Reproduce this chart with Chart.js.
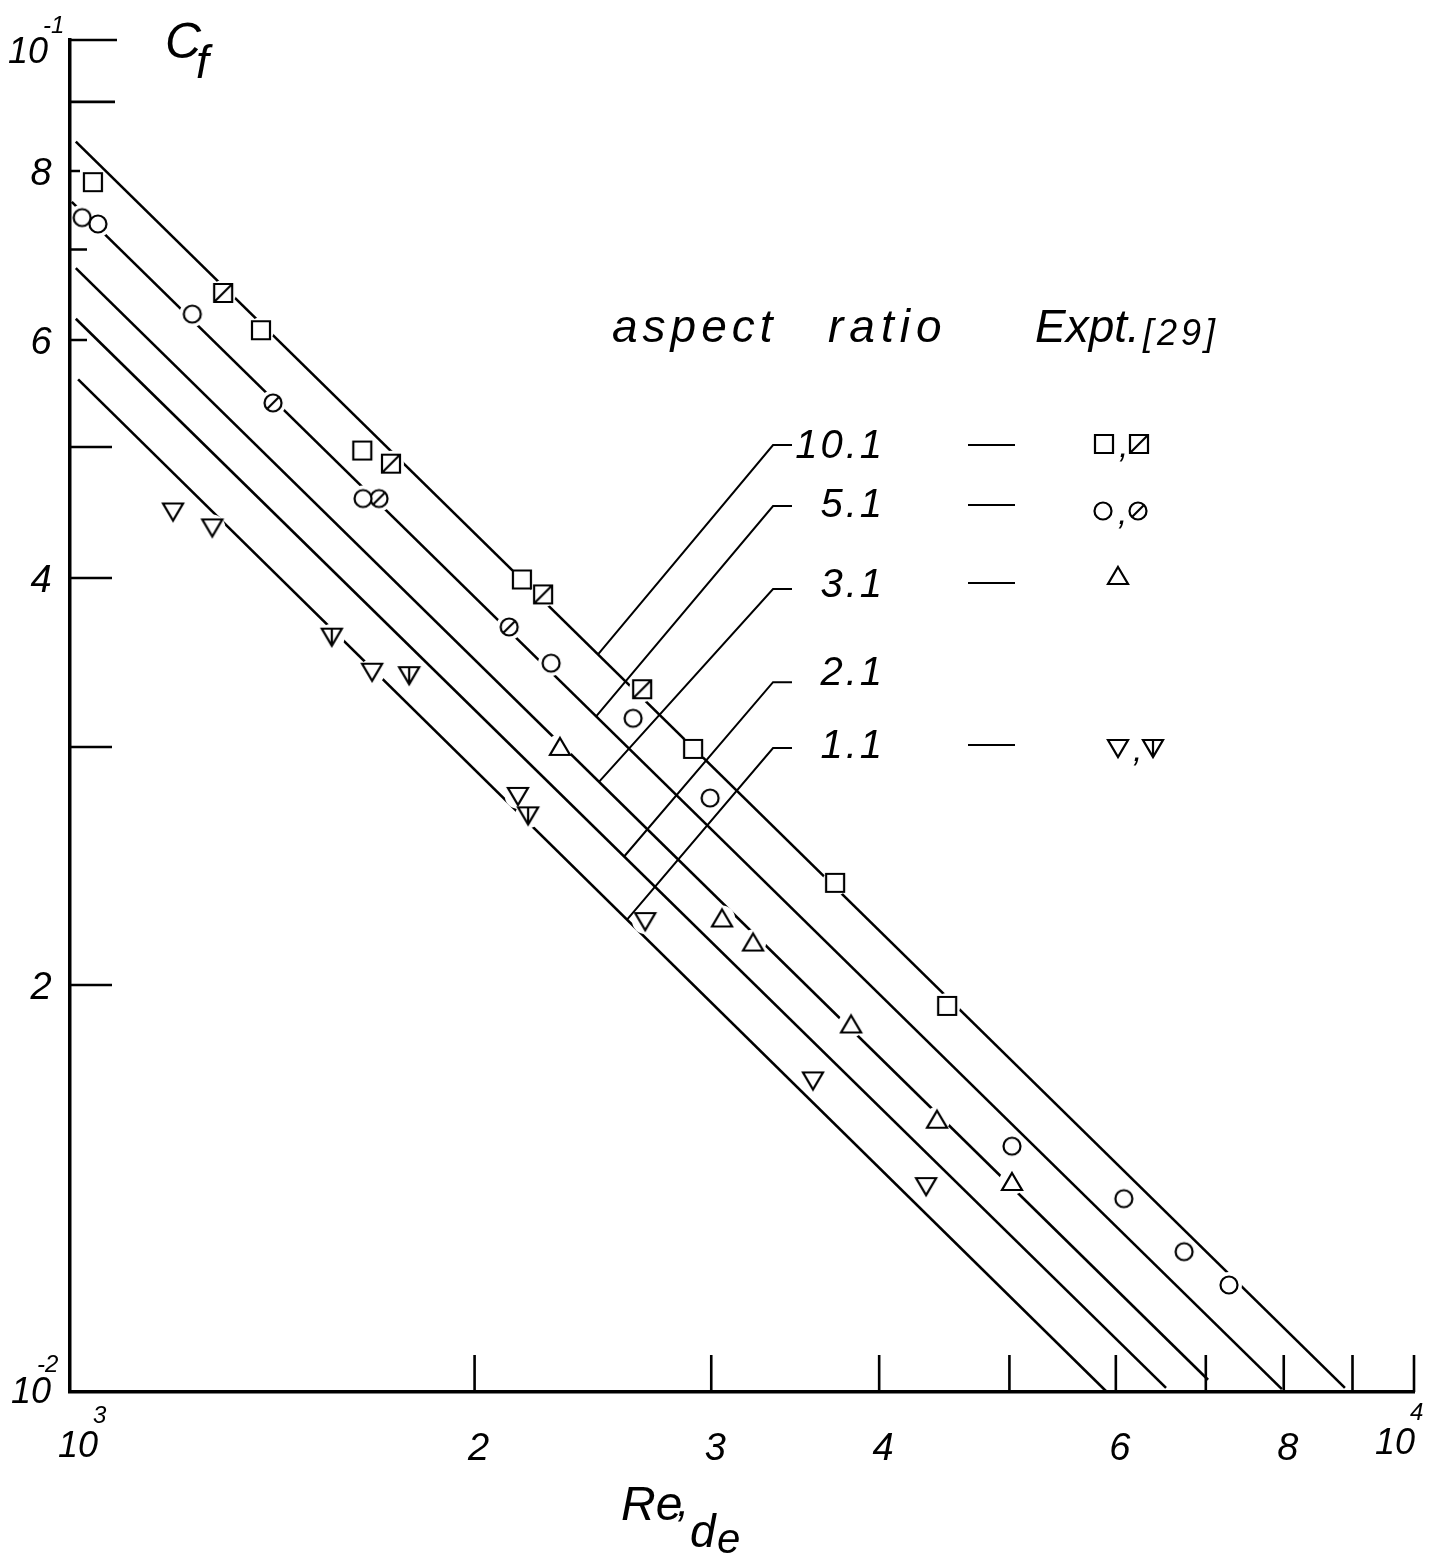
<!DOCTYPE html>
<html>
<head>
<meta charset="utf-8">
<title>Cf vs Re,de</title>
<script src="https://cdn.jsdelivr.net/npm/chart.js@4.4.0/dist/chart.umd.min.js"></script>
<style>
  html, body { margin: 0; padding: 0; background: #fff; }
  canvas { display: block; }
</style>
</head>
<body>
<canvas id="cf" width="1443" height="1556"></canvas>
<script>
// aspect ratios of the theory lines, top to bottom
const ratioLabels = ['10.1', '5.1', '3.1', '2.1', '1.1'];

// theory lines: Re and Cf at both ends
const lineRe = [[1010, 8884], [1003, 7975], [1010, 7027], [1010, 6539], [1014, 5909]];
const lineCf = [[0.0841, 0.01007], [0.0759, 0.01005], [0.0678, 0.01021], [0.0622, 0.01007], [0.0561, 0.0100]];

// Expt. [29]
const sqOpenRe = [1040, 1387, 1650, 2169, 2908, 3709, 4494];
const sqOpenCf = [0.0785, 0.0610, 0.0497, 0.0399, 0.0299, 0.0238, 0.0193];
const sqHatchRe = [1300, 1733, 2249, 2665];
const sqHatchCf = [0.0650, 0.0486, 0.0389, 0.0331];
const ciOpenRe = [1021, 1049, 1233, 1652, 2280, 2624, 2994, 5022, 6083, 6744, 7283];
const ciOpenCf = [0.0739, 0.0731, 0.0627, 0.0458, 0.0346, 0.0315, 0.0275, 0.0152, 0.0139, 0.0127, 0.0120];
const ciSlashRe = [1416, 1698, 2122];
const ciSlashCf = [0.0539, 0.0458, 0.0368];
const triUpRe = [2315, 3056, 3223, 3812, 4417, 5022];
const triUpCf = [0.0300, 0.0224, 0.0215, 0.0187, 0.0159, 0.0143];
const triDnRe = [1193, 1276, 1678, 2154, 2679, 3571, 4335];
const triDnCf = [0.0448, 0.0436, 0.0341, 0.0276, 0.0223, 0.0170, 0.0142];
const triDnHatchRe = [1566, 1788, 2192];
const triDnHatchCf = [0.0362, 0.0339, 0.0267];

// leader lines from the ratio labels down to their lines
const leaderRe = [2471, 2463, 2475, 2584, 2597];
const leaderStubRe = [3335, 3445];
const leaderStubCf = [0.05017, 0.04522, 0.03926, 0.03350, 0.02994];

// axis ticks
const xTicks = [2000, 3000, 4000, 5000, 6000, 7000, 8000, 9000, 10000];
const xTickLabels = { 2000: '2', 3000: '3', 4000: '4', 6000: '6', 8000: '8' };
const yTicks = [0.1, 0.09, 0.08, 0.07, 0.06, 0.05, 0.04, 0.03, 0.02];
const yTickLabels = { 0.08: '8', 0.06: '6', 0.04: '4', 0.02: '2' };

const yTickLength = [47, 45, 10, 17, 17, 42, 42, 42, 42];
const xTickLength = 37;
const FONT = '"Liberation Sans", Arial, sans-serif';

// point on a theory line (straight in log-log)
function cfOnLine(i, re) {
  const [r0, r1] = lineRe[i];
  const [c0, c1] = lineCf[i];
  const t = Math.log(re / r0) / Math.log(r1 / r0);
  return c0 * Math.pow(c1 / c0, t);
}

function glyph(kind) {
  const c = document.createElement('canvas');
  c.width = 28;
  c.height = 28;
  const g = c.getContext('2d');
  g.translate(14, 14);
  g.lineWidth = 2.2;
  g.strokeStyle = '#000';
  g.fillStyle = '#fff';
  g.beginPath();
  if (kind.startsWith('sq')) {
    g.rect(-9, -9, 18, 18);
  } else if (kind.startsWith('ci')) {
    g.arc(0, 0, 8.5, 0, Math.PI * 2);
  } else if (kind === 'triUp') {
    g.moveTo(0, -9); g.lineTo(10, 8); g.lineTo(-10, 8); g.closePath();
  } else {
    g.moveTo(-10, -8); g.lineTo(10, -8); g.lineTo(0, 9); g.closePath();
  }
  g.fill();
  g.stroke();
  g.beginPath();
  if (kind === 'sqHatch') { g.moveTo(-9, 9); g.lineTo(9, -9); }
  if (kind === 'ciSlash') { g.moveTo(-5.5, 5.5); g.lineTo(5.5, -5.5); }
  if (kind === 'triDnHatch') { g.moveTo(0, -8); g.lineTo(0, 9); }
  g.stroke();
  return c;
}

const glyphs = {};
['sqOpen', 'sqHatch', 'ciOpen', 'ciSlash', 'triUp', 'triDn', 'triDnHatch'].forEach(k => glyphs[k] = glyph(k));

const pts = (re, cf) => re.map((r, i) => ({ x: r, y: cf[i] }));

const markerDefs = [
  { key: 'sqOpen', re: sqOpenRe, cf: sqOpenCf },
  { key: 'sqHatch', re: sqHatchRe, cf: sqHatchCf },
  { key: 'ciOpen', re: ciOpenRe, cf: ciOpenCf },
  { key: 'ciSlash', re: ciSlashRe, cf: ciSlashCf },
  { key: 'triUp', re: triUpRe, cf: triUpCf },
  { key: 'triDn', re: triDnRe, cf: triDnCf },
  { key: 'triDnHatch', re: triDnHatchRe, cf: triDnHatchCf }
];

const lineSets = ratioLabels.map((lab, i) => ({
  label: lab,
  data: pts(lineRe[i], lineCf[i]),
  showLine: true,
  borderColor: '#000',
  borderWidth: 2.6,
  pointRadius: 0,
  order: 3
}));

const leaderSets = ratioLabels.map((lab, i) => ({
  label: 'leader ' + lab,
  data: [
    { x: leaderStubRe[1], y: leaderStubCf[i] },
    { x: leaderStubRe[0], y: leaderStubCf[i] },
    { x: leaderRe[i], y: cfOnLine(i, leaderRe[i]) }
  ],
  showLine: true,
  borderColor: '#000',
  borderWidth: 2,
  pointRadius: 0,
  order: 3
}));

// white disc under each marker so the lines break around it
const haloSet = {
  label: 'halo',
  data: markerDefs.flatMap(m => pts(m.re, m.cf)),
  pointStyle: 'circle',
  pointRadius: 13,
  backgroundColor: '#fff',
  borderWidth: 0,
  clip: false,
  order: 2
};

const markerSets = markerDefs.map(m => ({
  label: m.key,
  data: pts(m.re, m.cf),
  pointStyle: glyphs[m.key],
  pointRadius: 10,
  clip: false,
  order: 1
}));

function txt(ctx, s, x, y, size, align, spacing) {
  ctx.font = `italic ${size}px ${FONT}`;
  ctx.textAlign = align || 'left';
  ctx.letterSpacing = (spacing || 0) + 'px';
  ctx.fillText(s, x, y);
}

const axisDecor = {
  id: 'axisDecor',
  afterDraw(chart) {
    const { ctx, chartArea: a, scales: { x, y } } = chart;
    ctx.save();
    ctx.strokeStyle = '#000';
    ctx.fillStyle = '#000';
    ctx.lineWidth = 2.6;
    ctx.beginPath();
    xTicks.forEach(v => {
      const px = x.getPixelForValue(v);
      ctx.moveTo(px, a.bottom);
      ctx.lineTo(px, a.bottom - xTickLength);
    });
    yTicks.forEach((v, i) => {
      const py = y.getPixelForValue(v);
      ctx.moveTo(a.left, py);
      ctx.lineTo(a.left + yTickLength[i], py);
    });
    ctx.stroke();

    ctx.textBaseline = 'alphabetic';
    // y labels
    Object.keys(yTickLabels).forEach(k => {
      const py = y.getPixelForValue(+k);
      txt(ctx, yTickLabels[k], a.left - 29, py + 14, 38, 'center');
    });
    let py = y.getPixelForValue(0.1);
    txt(ctx, '10', a.left - 42, py + 23, 36, 'center');
    txt(ctx, '-1', a.left - 27, py - 7, 24);
    py = y.getPixelForValue(0.01);
    txt(ctx, '10', a.left - 39, py + 11, 36, 'center');
    txt(ctx, '-2', a.left - 33, py - 20, 24);

    // x labels
    Object.keys(xTickLabels).forEach(k => {
      const px = x.getPixelForValue(+k);
      txt(ctx, xTickLabels[k], px + 4, a.bottom + 68, 38, 'center');
    });
    let px = x.getPixelForValue(1000);
    txt(ctx, '10', px + 8, a.bottom + 65, 36, 'center');
    txt(ctx, '3', px + 23, a.bottom + 31, 24);
    px = x.getPixelForValue(10000);
    txt(ctx, '10', px - 19, a.bottom + 62, 36, 'center');
    txt(ctx, '4', px - 4, a.bottom + 28, 24);

    // axis titles
    txt(ctx, 'C', 165, 58, 50);
    txt(ctx, 'f', 196, 78, 46);
    txt(ctx, 'Re', 621, 1520, 48);
    txt(ctx, ',', 677, 1516, 44);
    txt(ctx, 'd', 690, 1547, 46);
    txt(ctx, 'e', 717, 1553, 42);
    ctx.restore();
  }
};

const legendRows = [
  { dashY: 445, glyphY: 444, keys: ['sqOpen', 'sqHatch'], gx: 1104 },
  { dashY: 505, glyphY: 511, keys: ['ciOpen', 'ciSlash'], gx: 1103 },
  { dashY: 583, glyphY: 576, keys: ['triUp'], gx: 1118 },
  null,
  { dashY: 745, glyphY: 748, keys: ['triDn', 'triDnHatch'], gx: 1118 }
];
const labelBaselines = [458, 517, 597, 685, 758];

const legendDecor = {
  id: 'legendDecor',
  afterDraw(chart) {
    const { ctx } = chart;
    ctx.save();
    ctx.fillStyle = '#000';
    ctx.strokeStyle = '#000';
    txt(ctx, 'aspect', 612, 342, 46, 'left', 5);
    txt(ctx, 'ratio', 828, 342, 46, 'left', 6);
    txt(ctx, 'Expt.', 1035, 342, 46, 'left', 0);
    txt(ctx, '[29]', 1143, 345, 36, 'left', 4);

    ratioLabels.forEach((lab, i) => {
      txt(ctx, lab, 885, labelBaselines[i], 40, 'right', 3);
      const row = legendRows[i];
      if (!row) return;
      ctx.lineWidth = 2;
      ctx.beginPath();
      ctx.moveTo(968, row.dashY);
      ctx.lineTo(1015, row.dashY);
      ctx.stroke();
      row.keys.forEach((k, j) => {
        const g = glyphs[k];
        const cx = row.gx + j * 35;
        ctx.drawImage(g, cx - g.width / 2, row.glyphY - g.height / 2);
        if (j === 1) txt(ctx, ',', cx - 20, row.glyphY + 13, 34);
      });
    });
    ctx.restore();
  }
};

new Chart(document.getElementById('cf'), {
  type: 'scatter',
  data: { datasets: [...lineSets, ...leaderSets, haloSet, ...markerSets] },
  options: {
    responsive: false,
    animation: false,
    events: [],
    layout: { autoPadding: false, padding: { left: 70, right: 29, top: 40, bottom: 164 } },
    plugins: { legend: { display: false }, tooltip: { enabled: false } },
    elements: { line: { tension: 0 } },
    scales: {
      x: {
        type: 'logarithmic', min: 1000, max: 10000,
        grid: { display: false, drawTicks: false },
        ticks: { display: false },
        border: { display: true, color: '#000', width: 3.5, z: 1 }
      },
      y: {
        type: 'logarithmic', min: 0.01, max: 0.1,
        grid: { display: false, drawTicks: false },
        ticks: { display: false },
        border: { display: true, color: '#000', width: 3.5, z: 1 }
      }
    }
  },
  plugins: [axisDecor, legendDecor]
});
</script>
</body>
</html>
